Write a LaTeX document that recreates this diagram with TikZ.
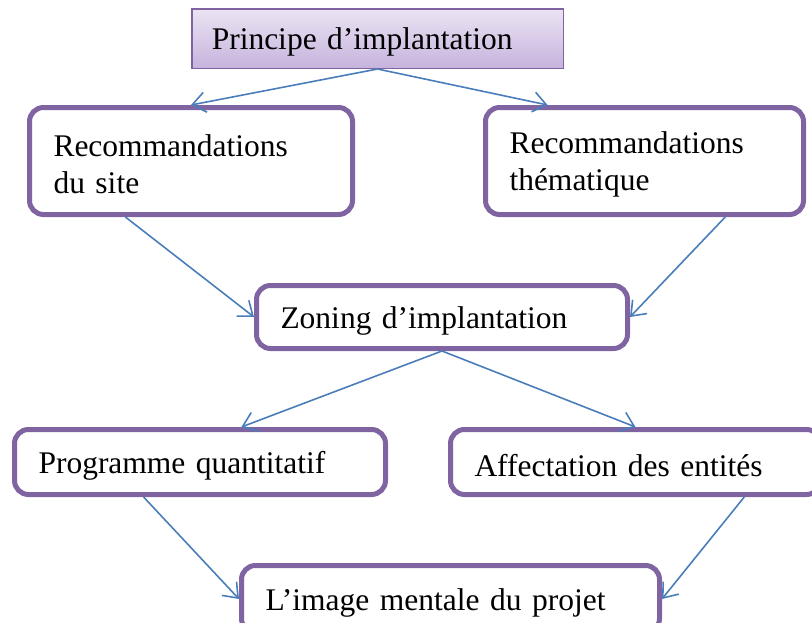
\documentclass[tikz,border=0pt]{standalone}
\usepackage{fontspec}
\setmainfont{Liberation Serif}
\usepackage{tikz}
\usetikzlibrary{arrows.meta,calc}
\definecolor{cadreviolet}{HTML}{8064A2}
\definecolor{flechebleu}{HTML}{4A7EBB}
\definecolor{lavandehaut}{HTML}{EBE4F3}
\definecolor{lavandebas}{HTML}{C6B3DD}

\begin{document}
\begin{tikzpicture}[
    x=1pt, y=-1pt,
    font=\fontsize{31.5}{37}\selectfont,
    etape/.style={draw=cadreviolet, line width=5pt, rounded corners=14pt, fill=white, align=left, inner xsep=24pt, inner ysep=0pt, text height=29pt},
    titre/.style={draw=cadreviolet, line width=1.5pt, top color=lavandehaut, bottom color=lavandebas, align=left, inner xsep=20pt, inner ysep=0pt, text height=29pt},
    fleche/.style={draw=flechebleu, line width=1.6pt, -{Straight Barb[length=13pt,width=20pt]}},
]
\useasboundingbox (0,0) rectangle (812,622);
\clip (0,0) rectangle (812,622);

% ============================================================
% PRINCIPE
% ============================================================
\node[titre, minimum width=371.5pt, minimum height=59.5pt, text width=331.5pt] (principe) at (377.5,38.5) {Principe d’implantation};

% ============================================================
% RECOMMANDATIONS
% ============================================================
\node[etape, minimum width=323pt, minimum height=107pt, text width=275pt] (site) at (191,161) {Recommandations\\du site};
\node[etape, minimum width=318pt, minimum height=107pt, text width=270pt] (thema) at (644.5,161) {Recommandations\\thématique};

\draw[fleche] (principe.south) -- (site.north);
\draw[fleche] (principe.south) -- ($(thema.north west)!0.2!(thema.north east)$);

% ============================================================
% ZONING
% ============================================================
\node[etape, minimum width=371pt, minimum height=63pt, text width=323pt] (zoning) at (442,317) {Zoning d’implantation};

\draw[fleche] ($(site.south west)!0.3!(site.south east)$) -- (zoning.west);
\draw[fleche] ($(thema.south west)!0.75!(thema.south east)$) -- (zoning.east);

% ============================================================
% PROGRAMME / AFFECTATION
% ============================================================
\node[etape, minimum width=371pt, minimum height=65pt, text width=323pt] (programme) at (200,462) {Programme quantitatif};
\node[etape, minimum width=370pt, minimum height=65pt, text width=322pt] (affect) at (635.5,462) {Affectation des entités};

\draw[fleche] (zoning.south) -- ($(programme.north west)!0.61!(programme.north east)$);
\draw[fleche] (zoning.south) -- (affect.north);

% ============================================================
% IMAGE MENTALE
% ============================================================
\node[etape, minimum width=418pt, minimum height=67pt, text width=370pt] (image) at (450.5,599) {L’image mentale du projet};

\draw[fleche] ($(programme.south west)!0.35!(programme.south east)$) -- (image.west);
\draw[fleche] ($(affect.south west)!0.79!(affect.south east)$) -- (image.east);

\end{tikzpicture}
\end{document}
